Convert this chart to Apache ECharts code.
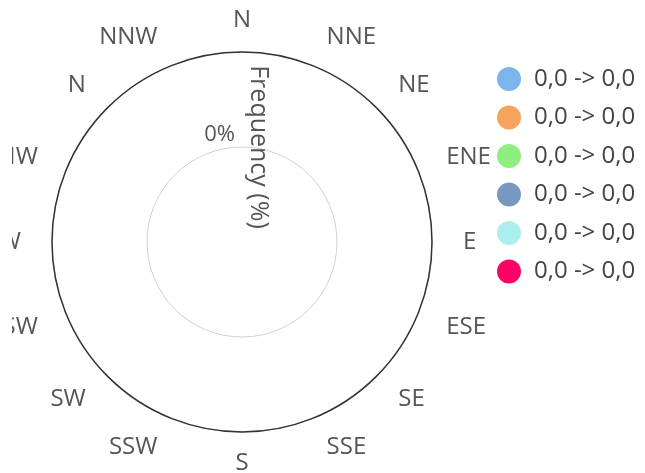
<!DOCTYPE html>
<html>
<head>
<meta charset="utf-8">
<script src="https://cdn.jsdelivr.net/npm/echarts@6/dist/echarts.min.js"></script>
<style>
  html, body { margin: 0; padding: 0; background: #fff; }
  #chart { position: absolute; left: 12px; top: 0; width: 633px; height: 473px; }
</style>
</head>
<body>
<div id="chart"></div>
<script>
// Direction categories (as shown in the picture)
const directions = ['N', 'NNE', 'NE', 'ENE', 'E', 'ESE', 'SE', 'SSE', 'S', 'SSW', 'SW', 'WSW', 'W', 'WNW', 'N', 'NNW'];
// Speed bins (legend labels)
const speedBins = ['0,0 -> 0,0', '0,0 -> 0,0', '0,0 -> 0,0', '0,0 -> 0,0', '0,0 -> 0,0', '0,0 -> 0,0'];
// Frequencies per direction for each bin (all zero in the picture)
const bin1 = [0, 0, 0, 0, 0, 0, 0, 0, 0, 0, 0, 0, 0, 0, 0, 0];
const bin2 = [0, 0, 0, 0, 0, 0, 0, 0, 0, 0, 0, 0, 0, 0, 0, 0];
const bin3 = [0, 0, 0, 0, 0, 0, 0, 0, 0, 0, 0, 0, 0, 0, 0, 0];
const bin4 = [0, 0, 0, 0, 0, 0, 0, 0, 0, 0, 0, 0, 0, 0, 0, 0];
const bin5 = [0, 0, 0, 0, 0, 0, 0, 0, 0, 0, 0, 0, 0, 0, 0, 0];
const bin6 = [0, 0, 0, 0, 0, 0, 0, 0, 0, 0, 0, 0, 0, 0, 0, 0];
const binValues = [bin1, bin2, bin3, bin4, bin5, bin6];
// Radius axis tick labels (by tick value)
const radiusTickLabels = ['', '0%', ''];

const binColors = ['#7cb5ec', '#f7a35c', '#90ee7e', '#7798bf', '#aaeeee', '#ff0066'];
const FONT = '"Open Sans"';

const chart = echarts.init(document.getElementById('chart'), null, { renderer: 'canvas' });

const series = binValues.map((vals, i) => ({
  name: 'bin' + i,
  type: 'bar',
  coordinateSystem: 'polar',
  polarIndex: 0,
  stack: 'total',
  data: vals,
  itemStyle: { color: binColors[i] }
}));

chart.setOption({
  animation: false,
  color: binColors,
  textStyle: { fontFamily: FONT },
  polar: [
    { center: [230, 242], radius: 190 },
    { center: [230, 242], radius: 190 }
  ],
  angleAxis: [
    {
      polarIndex: 0,
      type: 'category',
      data: directions,
      boundaryGap: true,
      startAngle: 101.25,
      clockwise: true,
      axisLine: { show: true, lineStyle: { color: '#333', width: 1.5 } },
      axisTick: { show: false },
      splitLine: { show: false },
      axisLabel: {
        interval: 0,
        margin: 31,
        fontSize: 24,
        lineHeight: 1,
        color: '#555',
        fontFamily: FONT
      }
    },
    {
      polarIndex: 1,
      type: 'value',
      min: 0,
      max: 360,
      startAngle: 90,
      axisLine: { show: false },
      axisTick: { show: false },
      axisLabel: { show: false },
      splitLine: { show: false }
    }
  ],
  radiusAxis: [
    {
      polarIndex: 0,
      type: 'value',
      min: 0,
      max: 2,
      show: false,
      splitLine: { show: false }
    },
    {
      polarIndex: 1,
      type: 'value',
      min: 0,
      max: 2,
      interval: 1,
      axisLine: { show: false },
      axisTick: { show: false },
      splitLine: { show: true, lineStyle: { color: '#d0d0d0', width: 1 } },
      axisLabel: {
        showMinLabel: false,
        showMaxLabel: false,
        margin: 7,
        fontSize: 22,
        color: '#555',
        fontFamily: FONT,
        verticalAlign: 'bottom',
        lineHeight: 25,
        formatter: v => radiusTickLabels[v] || ''
      },
      name: 'Frequency (%)',
      nameLocation: 'middle',
      nameRotate: -90,
      nameGap: 4,
      nameTextStyle: { fontSize: 25, color: '#555', fontFamily: FONT }
    }
  ],
  legend: {
    orient: 'vertical',
    left: 480,
    top: 62,
    icon: 'circle',
    itemWidth: 40,
    itemHeight: 24,
    itemGap: 14.5,
    data: series.map(s => s.name),
    formatter: name => speedBins[Number(name.slice(3))],
    textStyle: { fontSize: 24, lineHeight: 24, color: '#444', fontFamily: FONT }
  },
  series: series
});
</script>
</body>
</html>
